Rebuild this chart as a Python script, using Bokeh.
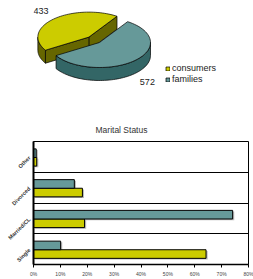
import math
from bokeh.plotting import figure
from bokeh.models import (Range1d, FactorRange, Legend, LegendItem, FixedTicker,
                          PrintfTickFormatter, ColumnDataSource)
from bokeh.layouts import column
from bokeh.transform import dodge
from bokeh.core.properties import value
from bokeh.embed import file_html
from bokeh.resources import INLINE

FONT = "Liberation Sans"

# ---------------- data ----------------
pie_labels = ["consumers", "families"]
pie_values = [433, 572]
pie_top_colors = ["#CCCC00", "#669999"]
pie_side_colors = ["#666600", "#336666"]
pie_explode = [0.3, 0.0]

categories = ["Single", "Married/CL", "Divorced", "Other"]
consumers_pct = [64.2, 19.0, 18.2, 1.2]
families_pct = [10.1, 74.1, 15.2, 1.0]
x_ticks = [0, 10, 20, 30, 40, 50, 60, 70, 80]

W = 253
BL, BR = 33, 5   # shared left/right borders so both frames line up

# ---------------- 3D pie ----------------
pie = figure(width=W, height=110, x_range=Range1d(BL, W - BR), y_range=Range1d(110, 0),
             output_backend="svg", toolbar_location=None,
             x_axis_location=None, y_axis_location=None,
             min_border_left=BL, min_border_right=BR, min_border_top=0, min_border_bottom=0)
pie.grid.visible = False
pie.outline_line_color = None
pie.background_fill_color = None
pie.border_fill_color = None

CX, CY, RX, RY, DEPTH = 99, 42, 51, 25, 13
START = 56.5
total = float(sum(pie_values))


def pt(theta, ox, oy, z):
    t = math.radians(theta)
    return CX + ox + RX * math.cos(t), CY + oy - RY * math.sin(t) + z


def arc(a, b, ox, oy, z, n=60):
    xs, ys = [], []
    for k in range(n + 1):
        x, y = pt(a + (b - a) * k / n, ox, oy, z)
        xs.append(x)
        ys.append(y)
    return xs, ys


top_renderers = []
a0 = START
for i, v in enumerate(pie_values):
    span = v / total * 360.0
    a1 = a0 + span
    mid = (a0 + a1) / 2
    ox = pie_explode[i] * RX * math.cos(math.radians(mid))
    oy = -pie_explode[i] * RY * math.sin(math.radians(mid))
    side = pie_side_colors[i]
    apx, apy = CX + ox, CY + oy
    # radial faces
    if math.cos(math.radians(a0)) > 0:
        rx0, ry0 = pt(a0, ox, oy, 0)
        pie.patch([apx, rx0, rx0, apx], [apy, ry0, ry0 + DEPTH, apy + DEPTH],
                  fill_color=side, line_color="black", line_width=0.7)
    if math.cos(math.radians(a1)) < 0:
        rx1, ry1 = pt(a1, ox, oy, 0)
        pie.patch([apx, rx1, rx1, apx], [apy, ry1, ry1 + DEPTH, apy + DEPTH],
                  fill_color=side, line_color="black", line_width=0.7)
    # front outer wall
    for k in (-360, 0, 360):
        lo, hi = max(a0, 180 + k), min(a1, 360 + k)
        if lo < hi:
            tx, ty = arc(lo, hi, ox, oy, 0)
            bx, by = arc(hi, lo, ox, oy, DEPTH)
            pie.patch(tx + bx, ty + by, fill_color=side, line_color="black", line_width=0.7)
    # top surface
    tx, ty = arc(a0, a1, ox, oy, 0)
    r = pie.patch([apx] + tx, [apy] + ty, fill_color=pie_top_colors[i],
                  line_color="black", line_width=0.7)
    top_renderers.append(r)
    # value label
    lx = CX + ox + 1.35 * RX * math.cos(math.radians(mid))
    ly = CY + oy - 1.45 * RY * math.sin(math.radians(mid))
    if math.sin(math.radians(mid)) < 0:
        ly += DEPTH
    pie.text(x=[lx], y=[ly], text=[str(v)], text_align="center", text_baseline="middle",
             text_font=value(FONT), text_font_size="9px", text_color="#222222")
    a0 = a1

legend = Legend(items=[LegendItem(label=pie_labels[i], renderers=[top_renderers[i]])
                       for i in range(len(pie_labels))],
                location=(165 - BL, 26), border_line_color=None, background_fill_alpha=0,
                padding=0, margin=0, spacing=1, glyph_width=5, glyph_height=5,
                label_standoff=2, label_height=9, label_text_font_size="9px",
                label_text_font=FONT, label_text_color="#222222")
pie.add_layout(legend)

# ---------------- bar chart ----------------
bars = figure(width=W, height=169, y_range=FactorRange(*categories), x_range=Range1d(0, 80),
              output_backend="svg", toolbar_location=None,
              min_border_left=BL, min_border_right=BR, min_border_top=31, min_border_bottom=14)
bars.background_fill_color = "white"
bars.border_fill_color = None
bars.outline_line_color = "black"
bars.outline_line_width = 1

src = ColumnDataSource(dict(cat=categories, consumers=consumers_pct, families=families_pct,
                            cons_sh=[v + 0.6 for v in consumers_pct],
                            fam_sh=[v + 0.6 for v in families_pct]))
H = 0.28
DC, DF = -0.16, 0.12
bars.hbar(y=dodge("cat", DC - 0.04, range=bars.y_range), left=0.6, right="cons_sh", height=H,
          source=src, fill_color="#BBBBBB", line_color=None)
bars.hbar(y=dodge("cat", DF - 0.04, range=bars.y_range), left=0.6, right="fam_sh", height=H,
          source=src, fill_color="#BBBBBB", line_color=None)
bars.hbar(y=dodge("cat", DC, range=bars.y_range), left=0, right="consumers", height=H,
          source=src, fill_color="#CCCC00", line_color="black", line_width=1)
bars.hbar(y=dodge("cat", DF, range=bars.y_range), left=0, right="families", height=H,
          source=src, fill_color="#669999", line_color="black", line_width=1)

bars.title.text = "Marital Status"
bars.title.align = "left"
bars.title.offset = 62
bars.title.text_font = FONT
bars.title.text_font_size = "8.5px"
bars.title.text_font_style = "normal"
bars.title.text_color = "#333333"
bars.title.standoff = 13

bars.xgrid.visible = False
bars.ygrid.ticker = FixedTicker(ticks=[1, 2, 3])
bars.ygrid.grid_line_color = "black"
bars.ygrid.grid_line_width = 1

xa = bars.xaxis[0]
xa.ticker = FixedTicker(ticks=x_ticks)
xa.formatter = PrintfTickFormatter(format="%d%%")
xa.major_label_text_font = FONT
xa.major_label_text_font_size = "5px"
xa.major_label_text_color = "#444444"
xa.major_tick_out = 3
xa.major_tick_in = 0
xa.minor_tick_line_color = None
xa.major_label_standoff = 3
xa.axis_line_color = "black"
xa.axis_line_width = 1.5
xa.major_tick_line_color = "black"

ya = bars.yaxis[0]
ya.major_label_orientation = math.pi / 4
ya.major_label_text_font = FONT
ya.major_label_text_font_size = "5.5px"
ya.major_label_text_font_style = "bold"
ya.major_label_text_color = "#333333"
ya.major_tick_out = 0
ya.major_tick_in = 0
ya.major_tick_line_color = None
ya.major_label_standoff = 4
ya.axis_line_color = "black"
ya.axis_line_width = 2

layout = column(pie, bars, spacing=0)

open("out.html", "w").write(file_html(layout, INLINE))
